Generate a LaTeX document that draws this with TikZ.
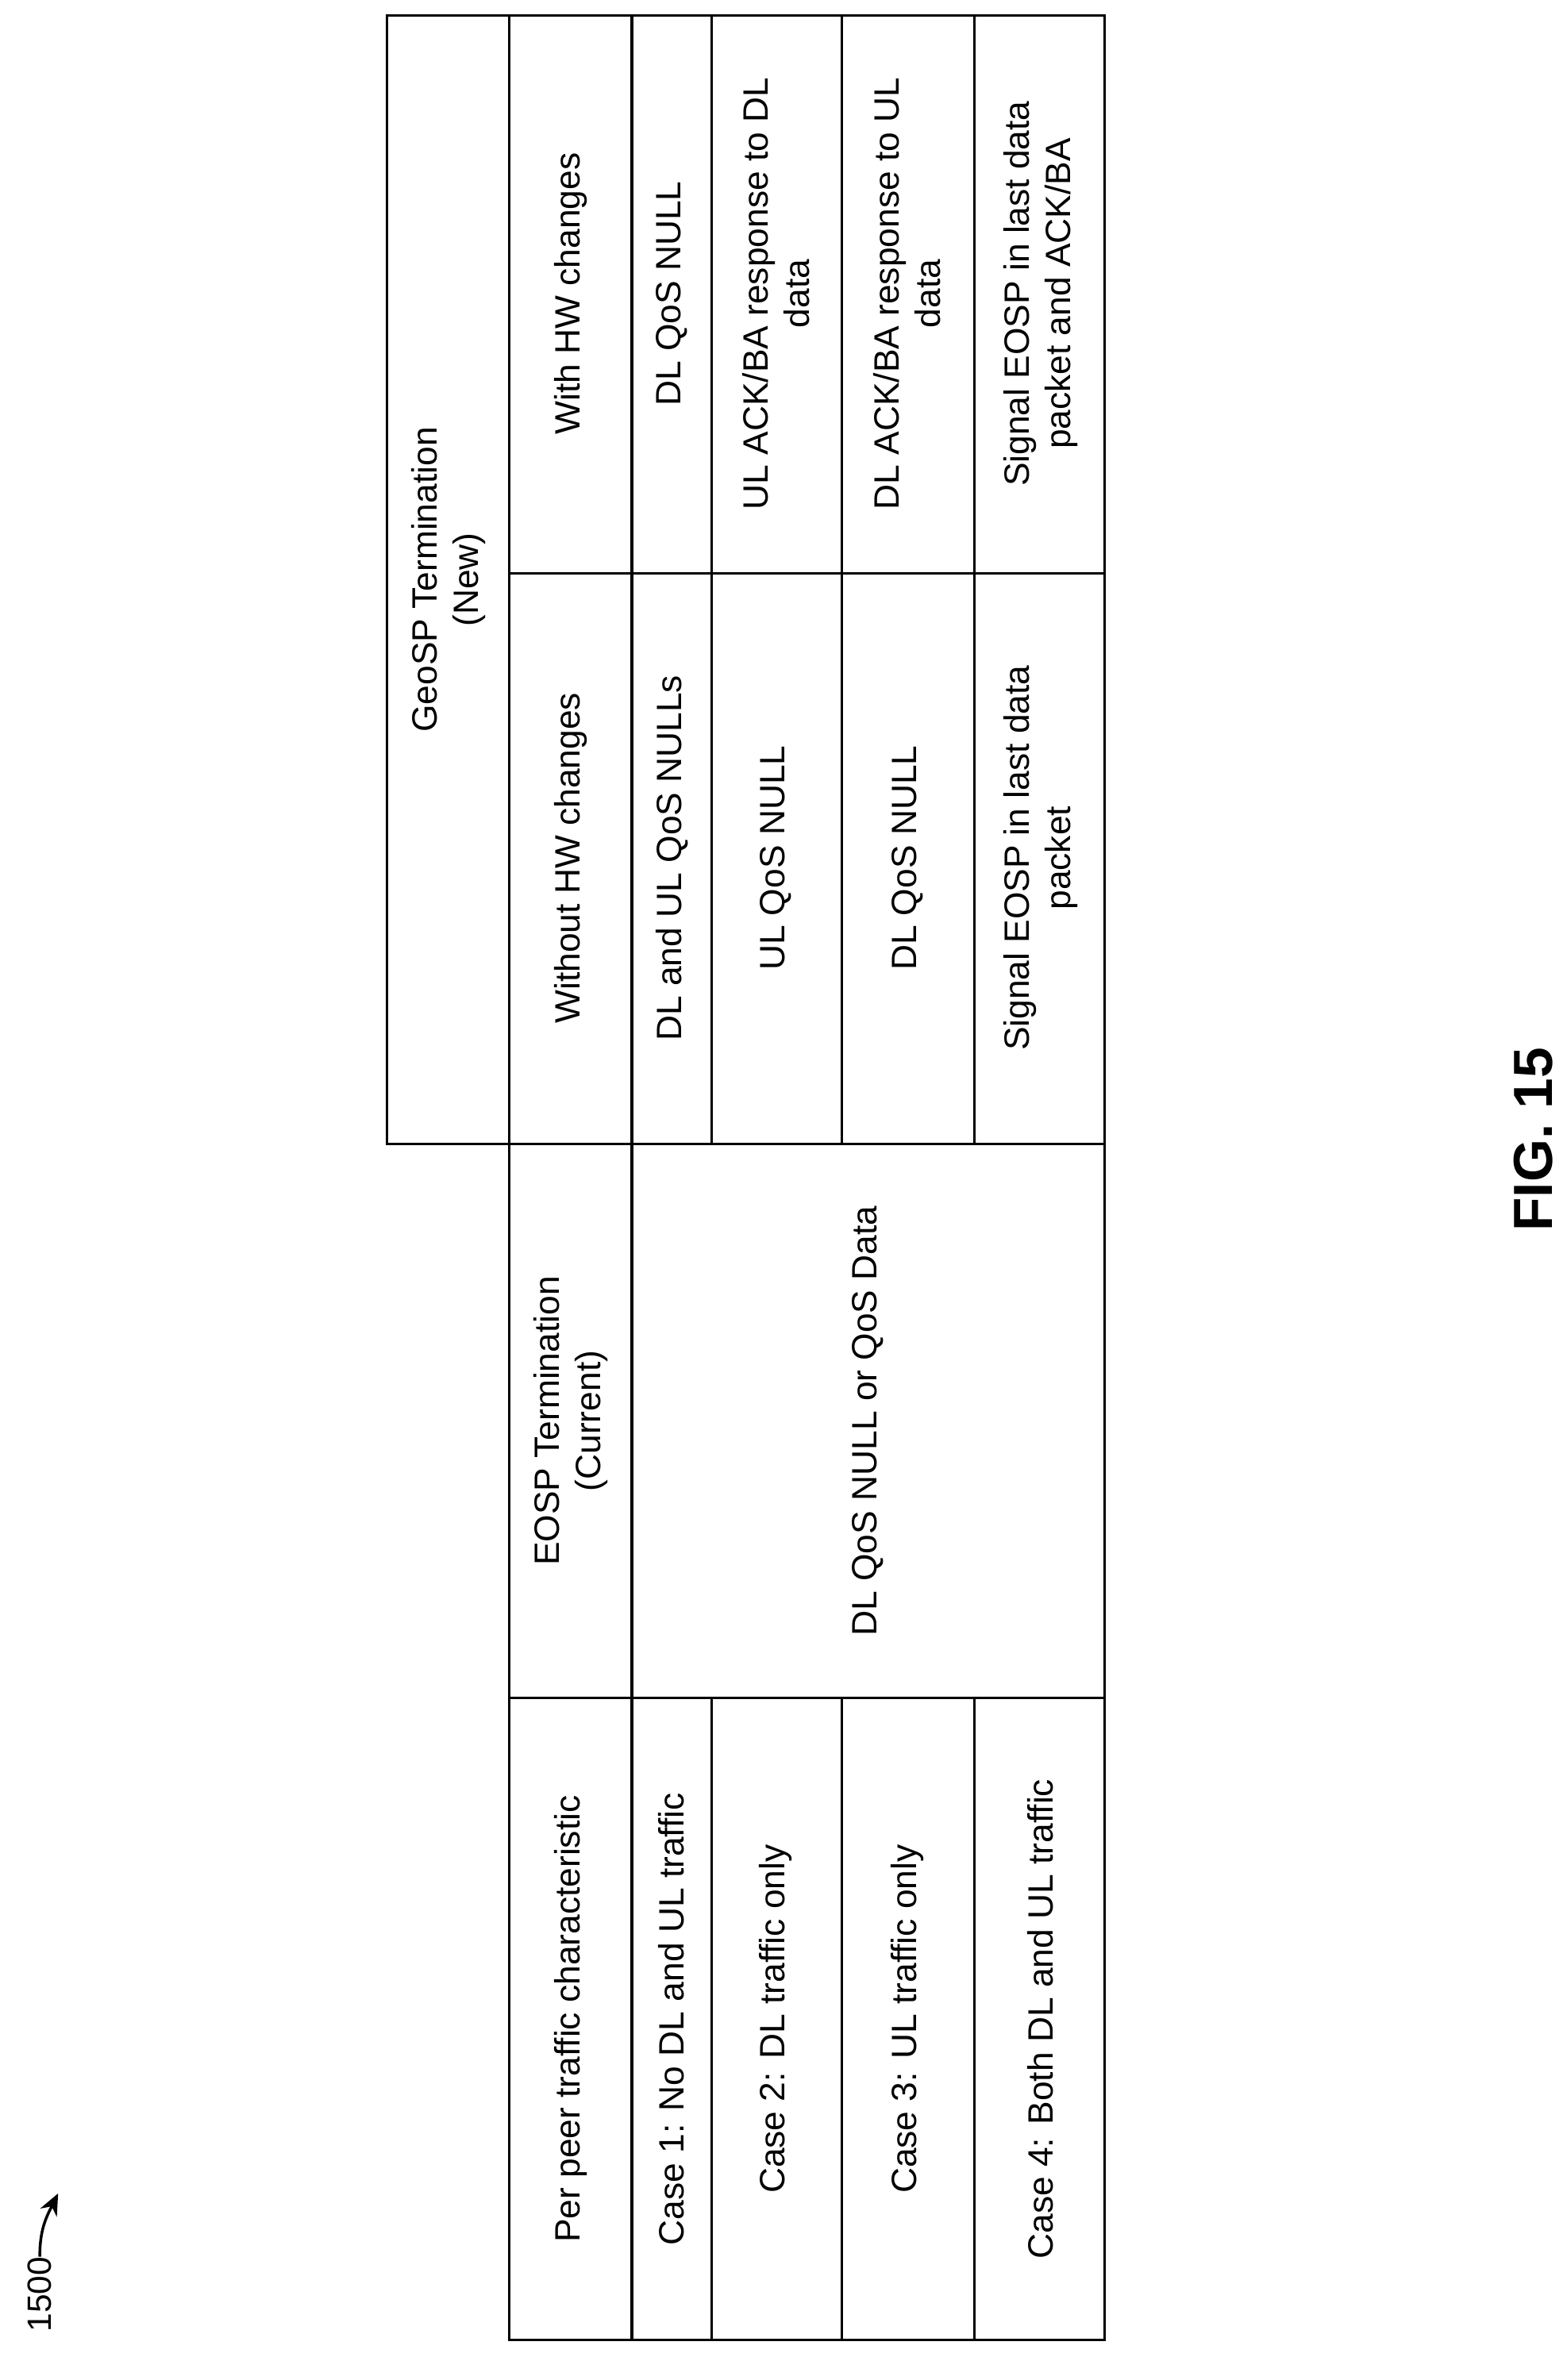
\documentclass[tikz,border=0pt]{standalone}
\usepackage{fontspec}
\setmainfont{Liberation Sans}
\usetikzlibrary{arrows.meta}
\begin{document}
\begin{tikzpicture}[x=1pt,y=-1pt,
  every node/.style={font=\fontsize{23}{27}\selectfont},
  cell/.style={rotate=90,align=center,inner sep=0pt},
  grid/.style={line width=1.6pt}]
\useasboundingbox (0,0) rectangle (1024,1556);
% outlines
\draw[grid] (253,10) rectangle (722,748);
\draw[grid] (333,748) rectangle (722,1110);
\draw[grid] (333,1110) rectangle (722,1530);
\draw[grid] (333,10) -- (333,748);
\draw[grid] (413,10) -- (413,1530);
\draw[grid] (333,375) -- (722,375);
\foreach \x in {465,550,637} {
  \draw[grid] (\x,10) -- (\x,748);
  \draw[grid] (\x,1110) -- (\x,1530);
}
% per peer column
\node[cell] (p0) at (373,1320) {Per peer traffic characteristic};
\node[cell] (p1) at (439,1320) {Case 1: No DL and UL traffic};
\node[cell] (p2) at (507,1320) {Case 2: DL traffic only};
\node[cell] (p3) at (593,1320) {Case 3: UL traffic only};
\node[cell] (p4) at (680,1320) {Case 4: Both DL and UL traffic};
% EOSP
\node[cell] (e0) at (373,929) {EOSP Termination\\(Current)};
\node[cell] (e1) at (567,929) {DL QoS NULL or QoS Data};
% GeoSP
\node[cell] (g0) at (293,379) {GeoSP Termination\\(New)};
\node[cell] (w0) at (373,561) {Without HW changes};
\node[cell] (h0) at (373,192) {With HW changes};
\node[cell] (w1) at (439,561) {DL and UL QoS NULLs};
\node[cell] (h1) at (439,192) {DL QoS NULL};
\node[cell] (w2) at (507,561) {UL QoS NULL};
\node[cell] (h2) at (507,192) {UL ACK/BA response to DL\\data};
\node[cell] (w3) at (593,561) {DL QoS NULL};
\node[cell] (h3) at (593,192) {DL ACK/BA response to UL\\data};
\node[cell] (w4) at (680,561) {Signal EOSP in last data\\packet};
\node[cell] (h4) at (680,192) {Signal EOSP in last data\\packet and ACK/BA};
% labels
\node[cell,font=\fontsize{22}{26}\selectfont] (lbl) at (26,1500) {1500};
\coordinate (tip) at (38,1434);
\draw[line width=1.8pt,-{Stealth[length=14pt,width=12pt]}] (lbl.east) .. controls (26,1458) and (30,1450) .. (tip);
\node[cell,font=\fontsize{36}{42}\selectfont\bfseries] (fig) at (1002,745) {FIG. 15};
\end{tikzpicture}
\end{document}
